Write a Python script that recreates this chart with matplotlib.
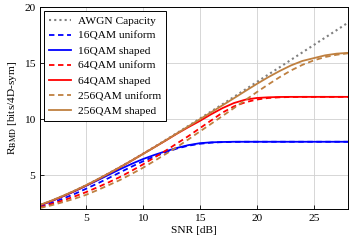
import matplotlib.pyplot as plt

plt.rcParams.update({
    'font.family': 'serif', 'font.serif': ['Liberation Serif', 'DejaVu Serif'],
    'font.size': 8.2, 'mathtext.fontset': 'stix',
})

snr = list(range(1, 29))

awgn = [2.35, 2.74, 3.17, 3.62, 4.11, 4.63, 5.18, 5.74, 6.32, 6.92, 7.53, 8.15, 8.78, 9.41,
        10.06, 10.70, 11.35, 12.00, 12.66, 13.32, 13.98, 14.63, 15.30, 15.96, 16.62, 17.28, 17.94, 18.61]
qam16_uni = [2.2, 2.55, 2.93, 3.34, 3.8, 4.27, 4.76, 5.27, 5.77, 6.25, 6.68, 7.05, 7.4, 7.65,
             7.82, 7.92, 7.97, 7.99, 8.0, 8.0, 8.0, 8.0, 8.0, 8.0, 8.0, 8.0, 8.0, 8.0]
qam16_sh = [2.33, 2.72, 3.14, 3.58, 4.06, 4.55, 5.05, 5.55, 6.02, 6.45, 6.82, 7.15, 7.45, 7.7,
            7.87, 7.95, 7.98, 8.0, 8.0, 8.0, 8.0, 8.0, 8.0, 8.0, 8.0, 8.0, 8.0, 8.0]
qam64_uni = [2.15, 2.45, 2.77, 3.12, 3.5, 3.93, 4.38, 4.86, 5.4, 5.97, 6.58, 7.2, 7.85, 8.5,
             9.2, 9.9, 10.6, 11.15, 11.52, 11.76, 11.9, 11.96, 11.99, 12.0, 12.0, 12.0, 12.0, 12.0]
qam64_sh = [2.35, 2.73, 3.15, 3.6, 4.09, 4.61, 5.16, 5.72, 6.3, 6.9, 7.5, 8.1, 8.72, 9.3,
            9.85, 10.45, 11.0, 11.45, 11.75, 11.9, 11.96, 11.99, 12.0, 12.0, 12.0, 12.0, 12.0, 12.0]
qam256_uni = [2.1, 2.34, 2.62, 2.92, 3.26, 3.68, 4.13, 4.59, 5.12, 5.67, 6.28, 6.9, 7.53, 8.21,
              8.91, 9.6, 10.3, 11.0, 11.71, 12.42, 13.1, 13.75, 14.35, 14.85, 15.25, 15.55, 15.75, 15.88]
qam256_sh = [2.38, 2.76, 3.18, 3.63, 4.11, 4.63, 5.17, 5.73, 6.31, 6.9, 7.5, 8.12, 8.74, 9.37,
             10.0, 10.62, 11.25, 11.88, 12.52, 13.15, 13.75, 14.3, 14.8, 15.2, 15.45, 15.7, 15.85, 15.92]

brown = '#bf8040'

fig, ax = plt.subplots(figsize=(3.49, 2.44), dpi=100)
fig.subplots_adjust(left=0.115, right=0.997, bottom=0.143, top=0.971)

ax.plot(snr, awgn, color='gray', ls=(0, (1, 1.5)), lw=1.5, label='AWGN Capacity')
ax.plot(snr, qam16_uni, color='blue', ls=(0, (3, 2)), lw=1.3, label='16QAM uniform')
ax.plot(snr, qam16_sh, color='blue', lw=1.3, label='16QAM shaped')
ax.plot(snr, qam64_uni, color='red', ls=(0, (3, 2)), lw=1.3, label='64QAM uniform')
ax.plot(snr, qam64_sh, color='red', lw=1.3, label='64QAM shaped')
ax.plot(snr, qam256_uni, color=brown, ls=(0, (3, 2)), lw=1.3, label='256QAM uniform')
ax.plot(snr, qam256_sh, color=brown, lw=1.3, label='256QAM shaped')

ax.set_xlim(1, 28)
ax.set_ylim(2, 20)
ax.set_xticks([5, 10, 15, 20, 25])
ax.set_yticks([5, 10, 15, 20])
ax.grid(True, color='#d0d0d0', lw=0.6)
ax.tick_params(direction='in', length=3, width=0.6)
for s in ax.spines.values():
    s.set_linewidth(0.7)

ax.set_xlabel('SNR [dB]', labelpad=2)
ax.set_ylabel(r'R$_{\mathrm{BMD}}$ [bits/4D-sym]', labelpad=3)

leg = ax.legend(loc='upper left', fancybox=False, edgecolor='black', framealpha=1,
                handlelength=2.0, labelspacing=0.45, borderpad=0.4, handletextpad=0.6,
                borderaxespad=0.35)
leg.get_frame().set_linewidth(0.7)

plt.savefig('out.png', dpi=100)
